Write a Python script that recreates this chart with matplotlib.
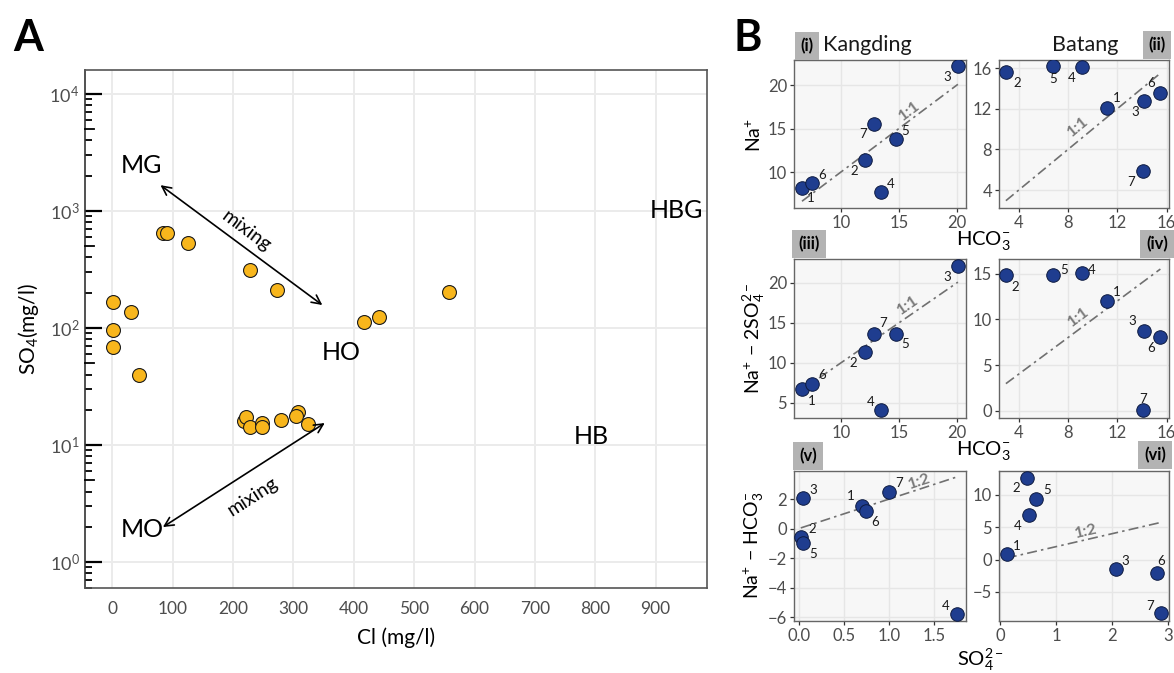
import numpy as np
import matplotlib.pyplot as plt
import matplotlib.transforms as mtransforms
from matplotlib.ticker import FixedLocator, NullFormatter

plt.rcParams['font.family'] = ['Lato', 'DejaVu Sans']
plt.rcParams['mathtext.fontset'] = 'custom'
plt.rcParams['mathtext.rm'] = 'Lato'
plt.rcParams['mathtext.it'] = 'Lato:italic'
plt.rcParams['mathtext.bf'] = 'Lato:bold'

W, H = 1174, 673

# ---- panel A: Cl vs SO4 (mg/l) ----
cl = [2, 31, 2, 2, 45, 84, 91, 126, 229, 273, 417, 442, 557,
      218, 222, 228, 248, 248, 280, 307, 305, 325]
so4 = [167, 137, 96, 69, 40, 650, 650, 535, 313, 211, 112, 124, 203,
       16.1, 17.3, 14.2, 15.3, 14.2, 16.4, 19.3, 17.7, 15.0]

zone_names = ['MG', 'MO', 'HO', 'HB', 'HBG']
zone_cl = [48, 50, 380, 793, 935]
zone_so4 = [2425, 1.88, 62, 11.9, 1000]

mix_from = [(80, 1660), (84, 1.99)]
mix_to = [(348, 157), (352, 15.4)]

# ---- panel B: ion ratios, samples 1..7 ----
sample_ids = [1, 2, 3, 4, 5, 6, 7]
kd_hco3 = [6.64, 12.07, 20.1, 13.5, 14.74, 7.5, 12.9]
kd_na = [8.16, 11.38, 22.2, 7.7, 13.8, 8.74, 15.5]
kd_na_2so4 = [6.75, 11.4, 22.1, 4.1, 13.6, 7.4, 13.6]
kd_so4 = [0.70, 0.02, 0.04, 1.75, 0.05, 0.74, 1.0]
kd_na_hco3 = [1.56, -0.6, 2.07, -5.8, -0.95, 1.22, 2.5]

bt_hco3 = [11.2, 2.96, 14.2, 9.12, 6.8, 15.5, 14.1]
bt_na = [12.1, 15.6, 12.8, 16.1, 16.2, 13.6, 5.85]
bt_na_2so4 = [12.0, 14.8, 8.7, 15.1, 14.9, 8.1, 0.1]
bt_so4 = [0.12, 0.48, 2.07, 0.52, 0.65, 2.8, 2.88]
bt_na_hco3 = [0.8, 12.6, -1.5, 6.9, 9.3, -2.0, -8.3]


def px_axes(fig, left, top, right, bottom):
    return fig.add_axes([left / W, 1 - bottom / H, (right - left) / W, (bottom - top) / H])


fig = plt.figure(figsize=(W / 100, H / 100), dpi=100)

# ================= A =================
ax = px_axes(fig, 85, 70, 707, 588)
ax.set_yscale('log')
ax.set_xlim(-45, 985)
ax.set_ylim(0.6, 16000)
ax.scatter(cl, so4, s=100, c='#F8B61C', edgecolors='#1a1a1a', linewidths=0.8, zorder=3)

ax.set_xticks(np.arange(0, 1000, 100))
ax.set_yticks([1, 10, 100, 1000, 10000])
minor = [m * 10.0 ** k for k in range(-1, 5) for m in (2, 3, 4, 6, 7, 8, 9)]
ax.yaxis.set_minor_locator(FixedLocator(minor))
ax.yaxis.set_minor_formatter(NullFormatter())
ax.grid(True, which='major', color='#EBEBEB', lw=1.4, zorder=0)
ax.tick_params(axis='x', length=0, pad=9, labelsize=12.5, labelcolor='#4D4D4D')
ax.tick_params(axis='y', which='major', direction='in', length=12, width=1.6,
               color='black', pad=4, labelsize=13, labelcolor='#4D4D4D')
ax.tick_params(axis='y', which='minor', direction='in', length=5, width=1.3, color='black')
# mid-decade log ticks
trans = mtransforms.blended_transform_factory(ax.transAxes, ax.transData)
for k in range(0, 4):
    ax.plot([0, 0.014], [5 * 10.0 ** k] * 2, color='black', lw=1.3, transform=trans,
            clip_on=False, zorder=4)
for side in ['top', 'right', 'bottom']:
    ax.spines[side].set_color('#555555')
    ax.spines[side].set_linewidth(1.2)
ax.spines['left'].set_color('#333333')
ax.spines['left'].set_linewidth(1.2)
ax.set_axisbelow(True)

for name, x, y in zip(zone_names, zone_cl, zone_so4):
    ax.text(x, y, name, fontsize=18, ha='center', va='center', zorder=5)

for a, b in zip(mix_from, mix_to):
    ax.annotate('', xy=a, xytext=b,
                arrowprops=dict(arrowstyle='<->', color='black', lw=1.2, mutation_scale=16,
                                shrinkA=0, shrinkB=0))
ax.text(222, 680, 'mixing', fontsize=14, rotation=-36.7, ha='center', va='center')
ax.text(233, 3.6, 'mixing', fontsize=14, rotation=32.7, ha='center', va='center')

ax.set_xlabel('Cl (mg/l)', fontsize=15, labelpad=8)
ax.set_ylabel('SO$_4$(mg/l)', fontsize=15, labelpad=6)

fig.text(28 / W, 1 - 38 / H, 'A', fontsize=31, fontweight='bold', ha='center', va='center')
fig.text(748 / W, 1 - 38 / H, 'B', fontsize=31, fontweight='bold', ha='center', va='center')

# ================= B =================
cols = [(794, 966), (999, 1169)]
rows = [(60, 208), (259, 418), (471, 621)]

panels = [
    dict(x=kd_hco3, y=kd_na, ratio=1, xlim=(5.95, 20.8), ylim=(5.86, 22.9),
         xt=[10, 15, 20], yt=[10, 15, 20], lab='1:1', lab_xy=(15.9, 17.0),
         off={1: (6.5, -7), 2: (-8, -8), 3: (-8, -8), 4: (6.5, 6), 5: (7, 6), 6: (7, 6), 7: (-8, -7)}),
    dict(x=bt_hco3, y=bt_na, ratio=1, xlim=(2.4, 16.2), ylim=(2.24, 16.8),
         xt=[4, 8, 12, 16], yt=[4, 8, 12, 16], lab='1:1', lab_xy=(8.8, 10.2),
         off={1: (7, 7), 2: (8, -8), 3: (-6.5, -8.5), 4: (-7, -8), 5: (0, -9.5), 6: (-7, 6.5), 7: (-8.5, -8)}),
    dict(x=kd_hco3, y=kd_na_2so4, ratio=1, xlim=(5.95, 20.8), ylim=(3.1, 23.0),
         xt=[10, 15, 20], yt=[5, 10, 15, 20], lab='1:1', lab_xy=(15.8, 17.25),
         off={1: (7, -8.5), 2: (-8.5, -8), 3: (-8, -8), 4: (-8, 6), 5: (7, -7), 6: (7, 6), 7: (6.5, 8)}),
    dict(x=bt_hco3, y=bt_na_2so4, ratio=1, xlim=(2.4, 16.2), ylim=(-0.8, 16.6),
         xt=[4, 8, 12, 16], yt=[0, 5, 10, 15], lab='1:1', lab_xy=(8.9, 10.2),
         off={1: (7, 6.5), 2: (7, -8), 3: (-8.5, 7), 4: (7, 2), 5: (8, 3), 6: (-7, -8), 7: (0, 7.5)}),
    dict(x=kd_so4, y=kd_na_hco3, ratio=2, xlim=(-0.055, 1.85), ylim=(-6.27, 3.9),
         xt=[0, 0.5, 1.0, 1.5], yt=[-6, -4, -2, 0, 2], lab='1:2', lab_xy=(1.33, 3.2),
         off={1: (-8, 6.5), 2: (8, 6), 3: (8, 6), 4: (-8, 6), 5: (7, -8), 6: (7, -8), 7: (7, 6.5)}),
    dict(x=bt_so4, y=bt_na_hco3, ratio=2, xlim=(-0.02, 3.02), ylim=(-9.5, 13.7),
         xt=[0, 1, 2, 3], yt=[-5, 0, 5, 10], lab='1:2', lab_xy=(1.54, 4.3),
         off={1: (7, 6), 2: (-8, -7), 3: (7, 6), 4: (-8, -8), 5: (8, 6.5), 6: (3, 8), 7: (-8, 5)}),
]

for i, p in enumerate(panels):
    r, c = divmod(i, 2)
    bx = px_axes(fig, cols[c][0], rows[r][0], cols[c][1], rows[r][1])
    bx.set_facecolor('#F7F7F7')
    bx.set_xlim(*p['xlim'])
    bx.set_ylim(*p['ylim'])
    bx.set_xticks(p['xt'])
    bx.set_yticks(p['yt'])
    if i == 4:
        bx.set_xticklabels(['0.0', '0.5', '1.0', '1.5'])
    bx.grid(True, color='#E6E6E6', lw=1.0, zorder=0)
    bx.set_axisbelow(True)
    bx.tick_params(length=3, width=0.9, color='#333333', labelsize=12,
                   labelcolor='#4D4D4D', pad=2)
    for s in bx.spines.values():
        s.set_color('#666666')
        s.set_linewidth(1.0)

    xs = np.array(p['x'])
    lx = np.array([xs.min(), xs.max()])
    bx.plot(lx, p['ratio'] * lx, color='#707070', lw=1.2,
            linestyle=(0, (6, 2.5, 1.5, 2.5)), zorder=2)
    ang = np.degrees(np.arctan(p['ratio']))
    bx.text(*p['lab_xy'], p['lab'], fontsize=11.5, fontweight='bold', color='#7A7A7A',
            rotation=ang, transform_rotates_text=True, rotation_mode='anchor',
            ha='center', va='center')

    bx.scatter(p['x'], p['y'], s=95, c='#1F3D8F', edgecolors='#0d1a40', linewidths=0.7, zorder=3)
    for sid, x, y in zip(sample_ids, p['x'], p['y']):
        bx.annotate(str(sid), (x, y), xytext=p['off'][sid], textcoords='offset points',
                    fontsize=9.5, ha='center', va='center', color='#1a1a1a')

# facet titles and strip tags
fig.text(867 / W, 1 - 45 / H, 'Kangding', fontsize=15.5, ha='center', va='center', color='#1a1a1a')
fig.text(1085 / W, 1 - 45 / H, 'Batang', fontsize=15.5, ha='center', va='center', color='#1a1a1a')
tags = [('(i)', 807, 46), ('(ii)', 1157, 45), ('(iii)', 809, 244),
        ('(iv)', 1157, 244), ('(v)', 808, 456), ('(vi)', 1155, 455)]
for t, x, y in tags:
    fig.text(x / W, 1 - y / H, t, fontsize=12, fontweight='bold', ha='center', va='center',
             bbox=dict(boxstyle='square,pad=0.35', fc='#B3B3B3', ec='none'))

fig.text(983 / W, 1 - 240 / H, 'HCO$_3^{-}$', fontsize=14.5, ha='center', va='center')
fig.text(983 / W, 1 - 450 / H, 'HCO$_3^{-}$', fontsize=14.5, ha='center', va='center')
fig.text(980 / W, 1 - 660 / H, 'SO$_4^{2-}$', fontsize=14.5, ha='center', va='center')

fig.text(754 / W, 1 - 135 / H, 'Na$^{+}$', fontsize=14, rotation=90, ha='center', va='center')
fig.text(754 / W, 1 - 338 / H, 'Na$^{+}$ − 2SO$_4^{2-}$', fontsize=14, rotation=90,
         ha='center', va='center')
fig.text(754 / W, 1 - 545 / H, 'Na$^{+}$ − HCO$_3^{-}$', fontsize=14, rotation=90,
         ha='center', va='center')

fig.savefig('out.png', dpi=100)
